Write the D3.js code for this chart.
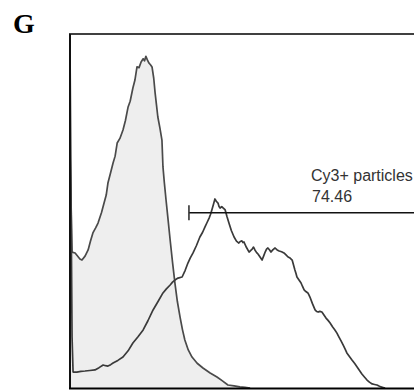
<!DOCTYPE html>
<html>
<head>
<meta charset="utf-8">
<script src="https://cdn.jsdelivr.net/npm/d3@7"></script>
<style>
  html, body { margin: 0; padding: 0; background: #fff; }
  svg { display: block; }
</style>
</head>
<body>
<svg id="chart" width="414" height="391"></svg>
<script>
// Panel label and gate annotation
const panelLabel = "G";
const gateName = "Cy3+ particles";
const gatePercent = "74.46";

// Gate extent in channels and its drawing level in counts
const gateStart = 348;
const gateEnd = 1024;
const gateLevel = 99;

// Unstained control histogram (filled): channel, count
const controlChannels = [0, 6, 15, 29, 35, 44, 53, 60, 67, 75, 82, 92, 102, 106, 111, 118, 126, 132, 138, 146, 155, 162, 170, 176, 184, 190, 196, 202, 208, 214, 218, 222, 226, 231, 236, 240, 245, 249, 253, 257, 263, 269, 272, 276, 281, 287, 293, 300, 307, 314, 322, 329, 336, 346, 357, 372, 389, 410, 430, 446, 462, 480, 497, 512, 527];
const controlCounts = [134.5, 76.8, 76.3, 72.9, 72.3, 74.5, 78, 83, 87.6, 90.5, 93.2, 99, 106.2, 109, 115.8, 121, 127.1, 131, 138.4, 141, 145.8, 151, 158.8, 162, 169.5, 174, 181.4, 181, 184.2, 186, 184.8, 187.4, 185.5, 183.6, 182.5, 181.4, 175, 166.7, 160, 153.1, 147, 140.1, 124.9, 116, 106.2, 95, 83.6, 71, 59.3, 49, 40.1, 33, 27.1, 21.5, 17.5, 14, 11.3, 8.5, 6.2, 4, 1.7, 1.2, 0.6, 0.3, 0];

// Cy3-labelled particles histogram (open): channel, count
const labelledChannels = [0, 6, 9, 20, 32, 44, 58, 73, 85, 97, 104, 111, 119, 126, 140, 155, 170, 184, 199, 214, 228, 243, 258, 272, 282, 293, 300, 307, 316, 328, 337, 345, 352, 360, 370, 380, 388, 395, 401, 407, 411, 415, 420, 424, 428, 433, 436, 439, 444, 448, 451, 454, 459, 465, 472, 480, 487, 494, 498, 503, 506, 509, 516, 524, 529, 533, 537, 541, 546, 550, 556, 562, 567, 571, 575, 579, 584, 588, 594, 600, 606, 612, 619, 626, 632, 638, 644, 650, 654, 658, 661, 664, 670, 676, 680, 685, 690, 696, 699, 702, 709, 717, 722, 726, 731, 737, 743, 749, 755, 761, 768, 775, 781, 787, 793, 799, 805, 810, 818, 825, 833, 840, 847, 854, 862, 869, 876, 884, 891, 898, 904, 910, 916, 922];
const labelledCounts = [193.2, 28.8, 9.0, 9.0, 9.4, 9.6, 9.9, 10.2, 11.5, 13, 12.6, 12.4, 13.2, 14.1, 15.6, 17.5, 21, 25.4, 29, 32.8, 38, 44.1, 49, 53.7, 56, 58.2, 59.8, 61, 62.1, 62.7, 66.5, 70.6, 73.5, 76.3, 80.5, 85.3, 88, 91, 93.5, 96, 98, 100.6, 104, 106.8, 105.5, 104.5, 102.5, 101.7, 102.4, 101.7, 101.2, 100.6, 97, 93.2, 89, 85.3, 83, 81.9, 82.8, 83.1, 82.2, 82.5, 79.5, 76.8, 77.8, 78.5, 79.6, 78, 76.5, 75.7, 74, 72.3, 74.8, 76.8, 78.5, 79.1, 78, 76.8, 78.2, 79.1, 78, 77.4, 77, 76.3, 75.2, 74, 73.4, 72.3, 69.5, 66.7, 64.8, 62.7, 61, 59.3, 57.5, 55.4, 54.5, 53.7, 52.6, 51.4, 47.8, 44.1, 43.2, 42.9, 43.3, 42.9, 41.2, 39.5, 38.2, 36.7, 34.6, 32.8, 31, 28.8, 26.6, 24.3, 22, 19.8, 17.7, 15.8, 13.8, 11.9, 9.9, 7.9, 6.1, 4.5, 3.3, 2.3, 2.0, 1.7, 1.1, 0.6, 0.3, 0];

const control = controlChannels.map((c, i) => ({ ch: c, n: controlCounts[i] }));
const labelled = labelledChannels.map((c, i) => ({ ch: c, n: labelledCounts[i] }));

const svg = d3.select("#chart");

// Plot frame: the right side runs past the visible area
const frame = { left: 70, top: 34, right: 420, bottom: 388 };

const x = d3.scaleLinear().domain([0, 1024]).range([frame.left, frame.right]);
const y = d3.scaleLinear().domain([0, 200]).range([frame.bottom, frame.top]);

const plot = svg.append("g");

// Filled control histogram
const area = d3.area()
  .x(d => x(d.ch))
  .y0(y(0))
  .y1(d => y(d.n))
  .curve(d3.curveLinear);

const line = d3.line()
  .x(d => x(d.ch))
  .y(d => y(d.n))
  .curve(d3.curveLinear);

plot.append("path")
  .datum(control)
  .attr("d", area)
  .attr("fill", "#eeeeee")
  .attr("stroke", "none");

plot.append("path")
  .datum(control)
  .attr("d", line)
  .attr("fill", "none")
  .attr("stroke", "#4a4a4a")
  .attr("stroke-width", 1.7)
  .attr("stroke-linejoin", "round");

// Open histogram of labelled particles
plot.append("path")
  .datum(labelled)
  .attr("d", line)
  .attr("fill", "none")
  .attr("stroke", "#3a3a3a")
  .attr("stroke-width", 1.7)
  .attr("stroke-linejoin", "round");

// Frame
svg.append("line")
  .attr("x1", frame.left - 1).attr("x2", 414)
  .attr("y1", frame.top).attr("y2", frame.top)
  .attr("stroke", "#000").attr("stroke-width", 1.6);
svg.append("line")
  .attr("x1", frame.left).attr("x2", frame.left)
  .attr("y1", frame.top).attr("y2", frame.bottom + 1)
  .attr("stroke", "#111").attr("stroke-width", 2);
svg.append("line")
  .attr("x1", frame.left - 1).attr("x2", 414)
  .attr("y1", frame.bottom + 0.5).attr("y2", frame.bottom + 0.5)
  .attr("stroke", "#000").attr("stroke-width", 2.2);

// Gate marker
const gy = y(gateLevel);
svg.append("line")
  .attr("x1", x(gateStart)).attr("x2", x(gateEnd))
  .attr("y1", gy).attr("y2", gy)
  .attr("stroke", "#111").attr("stroke-width", 1.4);
svg.append("line")
  .attr("x1", x(gateStart)).attr("x2", x(gateStart))
  .attr("y1", gy - 7.5).attr("y2", gy + 7.5)
  .attr("stroke", "#333").attr("stroke-width", 1.6);

// Gate annotation
svg.append("text")
  .attr("x", 311).attr("y", 181)
  .attr("font-family", "Liberation Sans, Arial, sans-serif")
  .attr("font-size", 16)
  .attr("fill", "#333")
  .text(gateName);
svg.append("text")
  .attr("x", 312).attr("y", 202)
  .attr("font-family", "Liberation Sans, Arial, sans-serif")
  .attr("font-size", 16)
  .attr("fill", "#333")
  .text(gatePercent);

// Panel label
svg.append("text")
  .attr("x", 13).attr("y", 33)
  .attr("font-family", "Liberation Serif, Times New Roman, serif")
  .attr("font-weight", "bold")
  .attr("font-size", 28)
  .attr("fill", "#000")
  .text(panelLabel);
</script>
</body>
</html>
